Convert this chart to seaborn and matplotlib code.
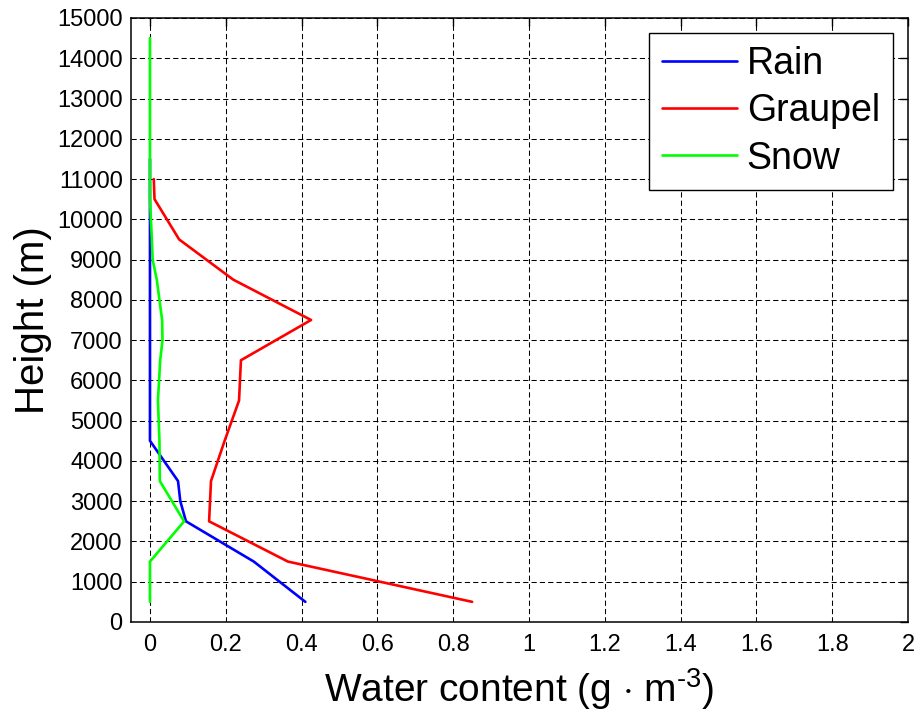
import matplotlib
matplotlib.use("Agg")
import matplotlib.pyplot as plt
import numpy as np
import pandas as pd
import seaborn as sns

# Vertical profiles of hydrometeor water content (g m^-3) against height (m)
rain_height = [500, 1500, 2500, 3000, 3500, 4500, 11500]
rain_value = [0.41, 0.274, 0.095, 0.08, 0.074, 0.0, 0.0]

graupel_height = [500, 1500, 2500, 3500, 4500, 5500, 6500, 7500, 8500, 9500, 10500, 11000]
graupel_value = [0.85, 0.364, 0.156, 0.161, 0.197, 0.235, 0.24, 0.425, 0.22, 0.077, 0.012, 0.01]

snow_height = [500, 1500, 2500, 3500, 4500, 5500, 6500, 7000, 7500, 8500, 9000, 9500, 10500, 14500]
snow_value = [0.0, 0.0, 0.09, 0.026, 0.025, 0.021, 0.027, 0.033, 0.032, 0.018, 0.007, 0.005, 0.0, 0.0]

series_names = ["Rain", "Graupel", "Snow"]
series_colors = ["#0000ff", "#ff0000", "#00ff00"]

x_ticks = [0, 0.2, 0.4, 0.6, 0.8, 1, 1.2, 1.4, 1.6, 1.8, 2]
x_tick_labels = ["0", "0.2", "0.4", "0.6", "0.8", "1", "1.2", "1.4", "1.6", "1.8", "2"]
y_ticks = list(range(0, 15001, 1000))

frames = []
for name, h, v in zip(series_names,
                      [rain_height, graupel_height, snow_height],
                      [rain_value, graupel_value, snow_value]):
    frames.append(pd.DataFrame({"height": h, "content": v, "type": name}))
df = pd.concat(frames, ignore_index=True)

sns.set_style("white")
plt.rcParams["font.family"] = ["Liberation Sans", "DejaVu Sans"]
plt.rcParams["mathtext.fontset"] = "custom"
plt.rcParams["mathtext.rm"] = "Liberation Sans"
plt.rcParams["mathtext.it"] = "Liberation Sans"
plt.rcParams["text.color"] = "black"
plt.rcParams["axes.labelcolor"] = "black"

fig = plt.figure(figsize=(9.15, 7.11), dpi=100)
ax = fig.add_axes([0.1432, 0.1252, 0.8491, 0.8495])

sns.lineplot(data=df, x="content", y="height", hue="type",
             hue_order=series_names, palette=series_colors,
             sort=False, estimator=None, linewidth=1.9, ax=ax, legend=False)

ax.set_xlim(-0.05, 2)
ax.set_ylim(0, 15000)
ax.set_xticks(x_ticks)
ax.set_xticklabels(x_tick_labels)
ax.set_yticks(y_ticks)
ax.set_yticklabels([str(t) for t in y_ticks])

ax.grid(True, color="black", linestyle=(0, (5, 3)), linewidth=0.75)
ax.set_axisbelow(True)

for side in ["left", "right", "top", "bottom"]:
    ax.spines[side].set_visible(True)
    ax.spines[side].set_color("black")
    ax.spines[side].set_linewidth(1.1)

ax.tick_params(axis="both", which="major", direction="in", length=6, width=1.0,
               top=True, right=True, labelsize=17, colors="black")
ax.tick_params(axis="x", pad=9)
ax.tick_params(axis="y", pad=6)

ax.set_xlabel(r"Water content (g $\cdot$ m$^{\text{-}3}$)", fontsize=28, labelpad=7)
ax.set_ylabel("Height (m)", fontsize=29, labelpad=4)

handles = [plt.Line2D([], [], color=c, linewidth=1.9) for c in series_colors]
leg = ax.legend(handles, series_names, loc="upper right", fontsize=27,
                frameon=True, fancybox=False, framealpha=1, edgecolor="black",
                handlelength=2.0, handletextpad=0.25, labelspacing=0.3,
                borderpad=0.35, borderaxespad=0.4)
leg.get_frame().set_linewidth(1.0)

fig.savefig("out.png", dpi=100, facecolor="white")
